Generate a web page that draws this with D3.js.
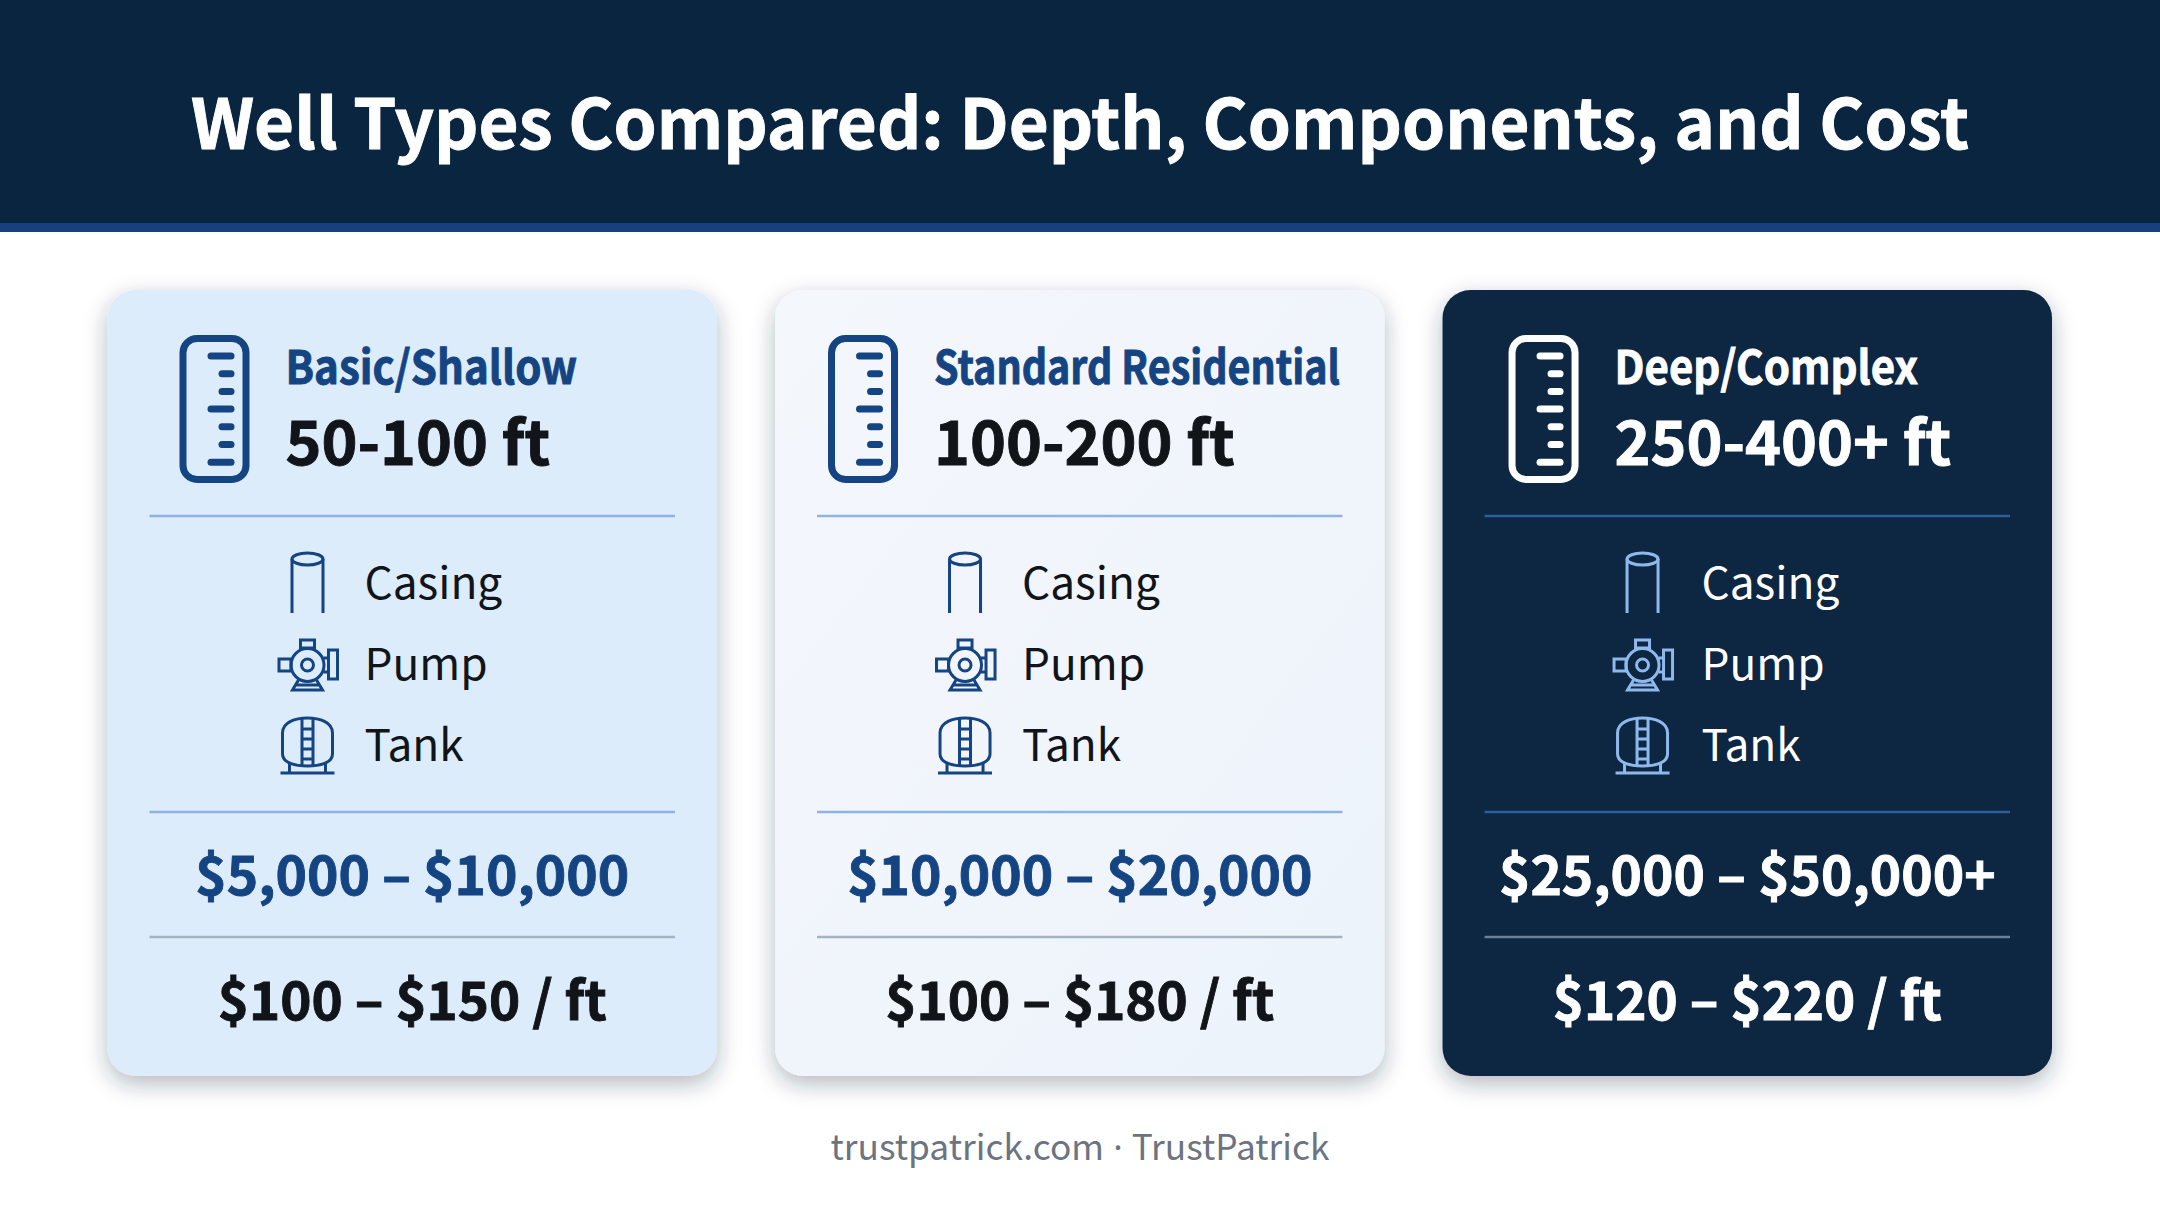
<!DOCTYPE html>
<html>
<head>
<meta charset="utf-8">
<script src="https://d3js.org/d3.v7.min.js"></script>
<style>
  html, body { margin: 0; padding: 0; background: #ffffff; }
  svg { display: block; }
  text { font-family: "Noto Sans CJK SC", "Noto Sans", sans-serif; }
</style>
</head>
<body>
<script>
// Data
const titulo = "Well Types Compared: Depth, Components, and Cost";
const pieWeb = "trustpatrick.com";
const pieMarca = "TrustPatrick";
const tipos = ["Basic/Shallow", "Standard Residential", "Deep/Complex"];
const profundidades = ["50-100 ft", "100-200 ft", "250-400+ ft"];
const componentes = ["Casing", "Pump", "Tank"];
const costes = ["$5,000 – $10,000", "$10,000 – $20,000", "$25,000 – $50,000+"];
const costesPie = ["$100 – $150 / ft", "$100 – $180 / ft", "$120 – $220 / ft"];

// Configuration
const width = 2160;
const height = 1206;
const cardTop = 290;
const cardHeight = 786;

// Horizontal offsets inside each card (the reference is not regular here)
const gaugeX = [72, 53, 66];
const cabeceraX = [178, 159, 172];
const iconoX = [200, 190, 200];
const etiquetaX = [257, 247, 259];
const anchoTipo = [0.913, 0.857, 0.913];

const temas = [
  { fondo: "#dcecfb", acento: "#154483", texto: "#111418", linea: "#8fb4de", linea3: "#a3b3c6", icono: "#154483" },
  { fondo: "url(#fondoClaro)", acento: "#154483", texto: "#111418", linea: "#8fb4de", linea3: "#a3b3c6", icono: "#154483" },
  { fondo: "#0a2542", acento: "#ffffff", texto: "#ffffff", linea: "#2f5f99", linea3: "#6d7f95", icono: "#8fb9ec" }
];

const svg = d3.select("body").append("svg")
  .attr("width", width)
  .attr("height", height);

const defs = svg.append("defs");

const sombra = defs.append("filter")
  .attr("id", "sombra")
  .attr("x", "-10%").attr("y", "-10%")
  .attr("width", "120%").attr("height", "120%");
sombra.append("feDropShadow")
  .attr("dx", 0).attr("dy", 8)
  .attr("stdDeviation", 11)
  .attr("flood-color", "#1a2a3a")
  .attr("flood-opacity", 0.32);

const grad = defs.append("linearGradient")
  .attr("id", "fondoClaro")
  .attr("x1", 0).attr("y1", 0).attr("x2", 1).attr("y2", 1);
grad.append("stop").attr("offset", "0%").attr("stop-color", "#f4f7fc");
grad.append("stop").attr("offset", "100%").attr("stop-color", "#edf3fb");

// Header
svg.append("rect").attr("x", 0).attr("y", 0).attr("width", width).attr("height", 223).attr("fill", "#0a2540");
svg.append("rect").attr("x", 0).attr("y", 223).attr("width", width).attr("height", 9).attr("fill", "#17407f");

function texto(g, x, y, str, size, weight, color, anchor, escala) {
  return g.append("text")
    .attr("transform", "translate(" + x + "," + y + ") scale(" + escala + ",1)")
    .attr("font-size", size)
    .attr("font-weight", weight)
    .attr("fill", color)
    .attr("text-anchor", anchor)
    .text(str);
}

// The bold text of the reference is a bit heavier than the font's bold
function grueso(sel, color) {
  return sel.attr("stroke", color).attr("stroke-width", 0.9);
}

grueso(texto(svg, width / 2, 149, titulo, 69, 700, "#ffffff", "middle", 1), "#ffffff");

// Cards
const xScale = d3.scaleBand()
  .domain(tipos)
  .range([107.5, 2052])
  .paddingInner(0.087);

// Icons
function dibujarGauge(g, x, y, color) {
  const ic = g.append("g").attr("transform", "translate(" + x + "," + y + ")")
    .attr("fill", "none").attr("stroke", color);
  ic.append("rect").attr("x", 3.5).attr("y", 3.5).attr("width", 63).attr("height", 141).attr("rx", 14).attr("stroke-width", 7);
  const marcas = [1, 0, 0, 1, 0, 0, 1];
  ic.selectAll("line").data(marcas).enter().append("line")
    .attr("x1", d => d ? 31.5 : 42.5)
    .attr("x2", 51.5)
    .attr("y1", (d, i) => 21 + i * 17.7)
    .attr("y2", (d, i) => 21 + i * 17.7)
    .attr("stroke-width", 7)
    .attr("stroke-linecap", "round");
}

function dibujarCasing(g, x, y, color) {
  const ic = g.append("g").attr("transform", "translate(" + x + "," + y + ")")
    .attr("fill", "none").attr("stroke", color).attr("stroke-width", 3);
  ic.append("ellipse").attr("cx", 0).attr("cy", -24).attr("rx", 15.5).attr("ry", 6);
  ic.append("path").attr("d", "M-15.5,-24V30M15.5,-24V30");
}

function dibujarPump(g, x, y, color) {
  const ic = g.append("g").attr("transform", "translate(" + x + "," + (y + 1) + ")")
    .attr("fill", "none").attr("stroke", color).attr("stroke-width", 3);
  ic.append("circle").attr("r", 16.5);
  ic.append("circle").attr("r", 6);
  ic.append("rect").attr("x", -7).attr("y", -25).attr("width", 14).attr("height", 8);
  ic.append("rect").attr("x", -28.5).attr("y", -6).attr("width", 12).attr("height", 12);
  ic.append("path").attr("d", "M16,-7H21M16,7H21");
  ic.append("rect").attr("x", 21).attr("y", -15).attr("width", 9).attr("height", 29);
  ic.append("path").attr("d", "M-9,15L-15,25H15L9,15M-11,20H11");
}

function dibujarTank(g, x, y, color) {
  const ic = g.append("g").attr("transform", "translate(" + x + "," + (y - 1) + ")")
    .attr("fill", "none").attr("stroke", color).attr("stroke-width", 3);
  ic.append("path").attr("d", "M-25,-11C-25,-22 -12,-26 0,-26C12,-26 25,-22 25,-11V10C25,19 12,22 0,22C-12,22 -25,19 -25,10Z");
  ic.append("path").attr("d", "M-5.5,-26V22M5.5,-26V22");
  ic.append("path").attr("d", "M-5.5,-15H5.5M-5.5,-5H5.5M-5.5,5H5.5M-5.5,15H5.5");
  ic.append("path").attr("d", "M-18,18V29M18,18V29M-27,29H27");
}

const dibujos = [dibujarCasing, dibujarPump, dibujarTank];
const filaY = d3.scaleBand().domain(componentes).range([542.5, 785.5]);

tipos.forEach(function (tipo, i) {
  const tema = temas[i];
  const x0 = xScale(tipo);
  const w = xScale.bandwidth();
  const g = svg.append("g").attr("transform", "translate(" + x0 + ",0)");

  g.append("rect")
    .attr("x", 0).attr("y", cardTop)
    .attr("width", w).attr("height", cardHeight)
    .attr("rx", 28)
    .attr("fill", tema.fondo)
    .attr("filter", "url(#sombra)");

  dibujarGauge(g, gaugeX[i], 335, tema.acento);
  grueso(texto(g, cabeceraX[i], 384, tipo, 46, 700, tema.acento, "start", anchoTipo[i]), tema.acento);
  grueso(texto(g, cabeceraX[i], 465, profundidades[i], 61, 700, tema.texto, "start", 1), tema.texto);

  // Dividers
  [[516, tema.linea], [812, tema.linea], [937, tema.linea3]].forEach(function (d) {
    g.append("line")
      .attr("x1", 42).attr("x2", w - 42)
      .attr("y1", d[0]).attr("y2", d[0])
      .attr("stroke", d[1]).attr("stroke-width", 2.4);
  });

  // Components
  componentes.forEach(function (c, j) {
    const cy = filaY(c) + filaY.bandwidth() / 2;
    dibujos[j](g, iconoX[i], cy, tema.icono);
    texto(g, etiquetaX[i], cy + 16, c, 44.2, 400, tema.texto, "start", 1);
  });

  grueso(texto(g, w / 2, 895, costes[i], 53.3, 700, tema.acento, "middle", 1), tema.acento);
  grueso(texto(g, w / 2, 1020, costesPie[i], 52.9, 700, tema.texto, "middle", 1), tema.texto);
});

// Footer: the dot comes from Noto Sans because the CJK one is full width
const piePag = texto(svg, width / 2, 1160, pieWeb, 35.3, 400, "#6b7480", "middle", 1);
piePag.append("tspan").style("font-family", "'Noto Sans'").text(" · ");
piePag.append("tspan").text(pieMarca);
</script>
</body>
</html>
